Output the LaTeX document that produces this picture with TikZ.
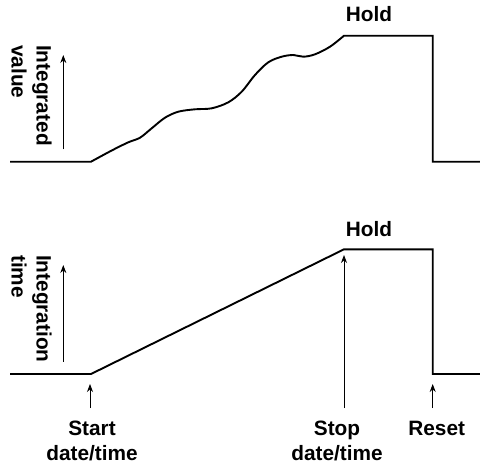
\documentclass[tikz,border=0pt]{standalone}
\usepackage{fontspec}
\setmainfont{Liberation Sans}
\usetikzlibrary{arrows.meta}
\begin{document}
\begin{tikzpicture}[x=1pt,y=-1pt,
  sig/.style={line width=1.9pt, line join=miter},
  ptr/.style={line width=0.9pt, -{Stealth[length=8pt,width=6pt]}},
  lbl/.style={font=\fontsize{20.8}{25}\selectfont\bfseries, inner sep=0pt},
  vlbl/.style={lbl, rotate=-90, anchor=base west}]
\useasboundingbox (0,0) rectangle (480,466);
% ---------- top: integrated value ----------
\coordinate (t0) at (10,161.7);
\coordinate (t1) at (91,161.7);
\coordinate (t2) at (344,35.7);
\coordinate (t3) at (432.7,35.7);
\coordinate (t4) at (432.7,161.7);
\coordinate (t5) at (480,161.7);
\draw[sig] (t0) -- (t1)
  plot[smooth, tension=0.55] coordinates {(91,161.7) (111.7,150.5) (128.3,142.3) (140,137.7) (151.7,128.3) (165,117.7) (178.3,111.7) (195,109.3) (211.7,108.3) (228.3,102.3) (241.7,91.7) (255,75) (268.3,62.3) (281.7,56.7) (293.3,55) (303.3,56.7) (315,54.3) (330,46.7) (344,35.7)}
  -- (t3) -- (t4) -- (t5);
\coordinate (a1s) at (63.3,149.3);
\coordinate (a1e) at (63.3,55);
\draw[ptr] (a1s) -- (a1e);
\node[vlbl] (iv1) at (36.7,45) {Integrated};
\node[vlbl] (iv2) at (11.7,45) {value};
\node[lbl, anchor=base] (hold1) at (369,21.7) {Hold};
% ---------- bottom: integration time ----------
\coordinate (b0) at (10,374);
\coordinate (b1) at (91,374);
\coordinate (b2) at (344,249.3);
\coordinate (b3) at (432.7,249.3);
\coordinate (b4) at (432.7,374);
\coordinate (b5) at (480,374);
\draw[sig] (b0) -- (b1) -- (b2) -- (b3) -- (b4) -- (b5);
\coordinate (a2s) at (63.3,361.7);
\coordinate (a2e) at (63.3,265);
\draw[ptr] (a2s) -- (a2e);
\node[vlbl] (it1) at (36.7,255) {Integration};
\node[vlbl] (it2) at (11.7,255) {time};
\node[lbl, anchor=base] (hold2) at (369,236) {Hold};
% ---------- markers ----------
\coordinate (s0) at (90,408);
\coordinate (s1) at (90,384);
\coordinate (p0) at (344,408);
\coordinate (p1) at (344,255);
\coordinate (r0) at (432.7,408);
\coordinate (r1) at (432.7,384);
\draw[ptr] (s0) -- (s1);
\draw[ptr] (p0) -- (p1);
\draw[ptr] (r0) -- (r1);
\node[lbl, anchor=base] (st1) at (92,435) {Start};
\node[lbl, anchor=base] (st2) at (92,460) {date/time};
\node[lbl, anchor=base] (sp1) at (337,435) {Stop};
\node[lbl, anchor=base] (sp2) at (337,460) {date/time};
\node[lbl, anchor=base] (rs) at (436.7,435) {Reset};
\end{tikzpicture}
\end{document}
